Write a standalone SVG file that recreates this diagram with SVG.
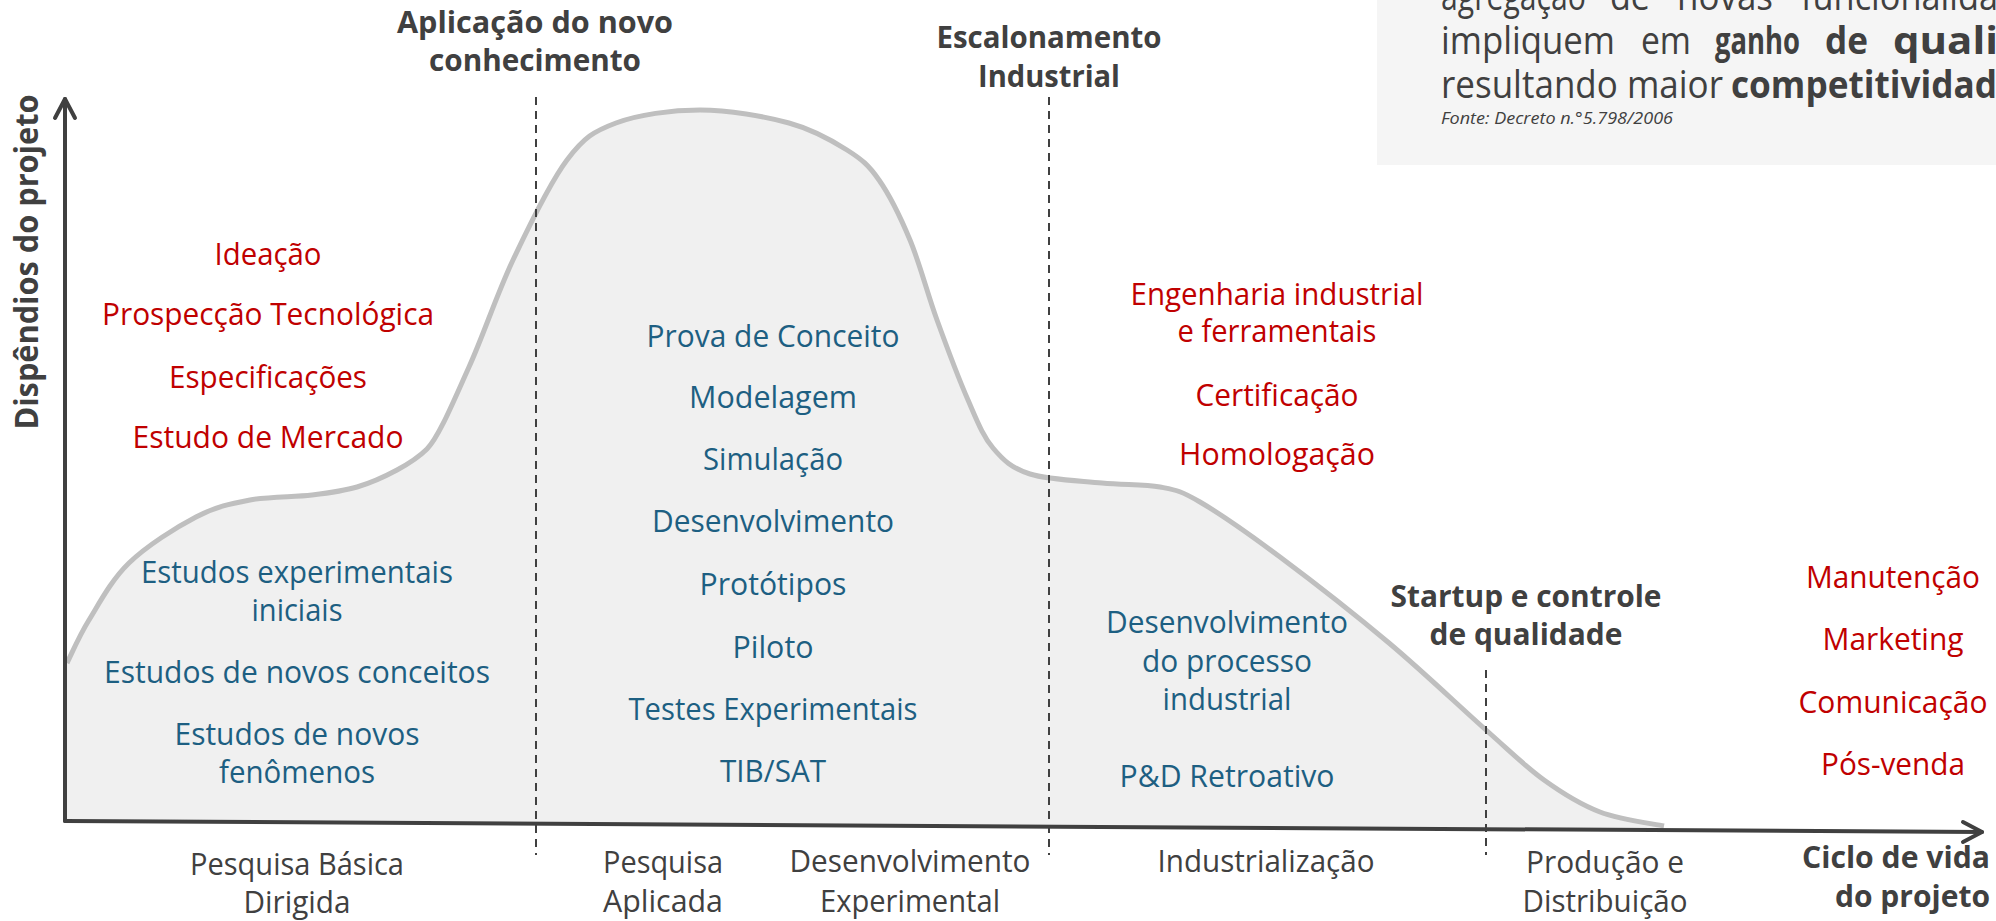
<svg xmlns="http://www.w3.org/2000/svg" width="1996" height="921" viewBox="0 0 1996 921">
<defs>
<style>
text{font-family:"Open Sans","Liberation Sans",sans-serif;}
.t{font-size:31px;text-anchor:middle;}
.red{fill:#c00000;}
.blue{fill:#1d5f82;}
.gray{fill:#404040;}
.ttl{font-size:30px;font-weight:bold;fill:#404040;text-anchor:middle;}
.box{font-size:38px;fill:#404040;}
.b{font-weight:bold;}
.dash{stroke:#404040;stroke-width:2;stroke-dasharray:8 6;fill:none;}
.axis{stroke:#404040;stroke-width:4;fill:none;stroke-linecap:round;stroke-linejoin:round;}
</style>
</defs>
<rect width="1996" height="921" fill="#ffffff"/>

<g id="info-box">
<rect x="1377" y="0" width="619" height="165" fill="#f5f5f5"/>
<text class="box" y="10"><tspan x="1441" textLength="145" lengthAdjust="spacingAndGlyphs">agregação</tspan><tspan x="1610" textLength="40" lengthAdjust="spacingAndGlyphs">de</tspan><tspan x="1677" textLength="96" lengthAdjust="spacingAndGlyphs">novas</tspan><tspan x="1801" textLength="197" lengthAdjust="spacingAndGlyphs">funcionalida</tspan></text>
<text class="box" y="54"><tspan x="1441" textLength="174" lengthAdjust="spacingAndGlyphs">impliquem</tspan><tspan x="1641" textLength="50" lengthAdjust="spacingAndGlyphs">em</tspan><tspan class="b" x="1715" textLength="85" lengthAdjust="spacingAndGlyphs">ganho</tspan><tspan class="b" x="1825" textLength="43" lengthAdjust="spacingAndGlyphs">de</tspan><tspan class="b" x="1893" textLength="105" lengthAdjust="spacingAndGlyphs">quali</tspan></text>
<text class="box" y="98"><tspan x="1441" textLength="282" lengthAdjust="spacingAndGlyphs">resultando maior</tspan><tspan class="b" x="1731" textLength="266" lengthAdjust="spacingAndGlyphs">competitividad</tspan></text>
<text x="1441" y="124" font-size="17" font-style="italic" fill="#404040" textLength="232" lengthAdjust="spacingAndGlyphs">Fonte: Decreto n.°5.798/2006</text>
</g>

<g id="curve">
<path fill="#f0f0f0" stroke="none" d="M67,663 C70.7,655.8 78.7,636.7 89,620 C99.3,603.3 111.2,580.2 129,563 C146.8,545.8 175.8,527.5 196,517 C216.2,506.5 230.7,503.7 250,500 C269.3,496.3 294.2,497.2 312,495 C329.8,492.8 342.8,491.2 357,487 C371.2,482.8 385.3,476.3 397,470 C408.7,463.7 418,458 427,449 C439,437 454.7,398.5 469,367 C483.3,335.5 496.7,294.5 513,260 C529.3,225.5 549.8,182.8 567,160 C584.2,137.2 593.8,131.3 616,123 C638.2,114.7 671.2,110 700,110 C728.8,110 764.5,116.3 789,123 C813.5,129.7 832,140.5 847,150 C862,159.5 868.5,165 879,180 C889.5,195 900.3,216.7 910,240 C919.7,263.3 927.3,293.3 937,320 C946.7,346.7 958.7,378.7 968,400 C977.3,421.3 982.7,435.7 993,448 C1003.3,460.3 1011.8,468.2 1030,474 C1048.2,479.8 1080.3,480.8 1102,483 C1123.7,485.2 1143.7,483.8 1160,487 C1176.3,490.2 1180,490.3 1200,502 C1220,513.7 1248.5,533.5 1280,557 C1311.5,580.5 1354.7,614.2 1389,643 C1423.3,671.8 1460.2,707.2 1486,730 C1511.8,752.8 1525,766.3 1544,780 C1563,793.7 1580,804.3 1600,812 C1620,819.7 1653.3,823.7 1664,826 L1664,829 L65,821 Z"/>
<path fill="none" stroke="#bfbfbf" stroke-width="5" d="M67,663 C70.7,655.8 78.7,636.7 89,620 C99.3,603.3 111.2,580.2 129,563 C146.8,545.8 175.8,527.5 196,517 C216.2,506.5 230.7,503.7 250,500 C269.3,496.3 294.2,497.2 312,495 C329.8,492.8 342.8,491.2 357,487 C371.2,482.8 385.3,476.3 397,470 C408.7,463.7 418,458 427,449 C439,437 454.7,398.5 469,367 C483.3,335.5 496.7,294.5 513,260 C529.3,225.5 549.8,182.8 567,160 C584.2,137.2 593.8,131.3 616,123 C638.2,114.7 671.2,110 700,110 C728.8,110 764.5,116.3 789,123 C813.5,129.7 832,140.5 847,150 C862,159.5 868.5,165 879,180 C889.5,195 900.3,216.7 910,240 C919.7,263.3 927.3,293.3 937,320 C946.7,346.7 958.7,378.7 968,400 C977.3,421.3 982.7,435.7 993,448 C1003.3,460.3 1011.8,468.2 1030,474 C1048.2,479.8 1080.3,480.8 1102,483 C1123.7,485.2 1143.7,483.8 1160,487 C1176.3,490.2 1180,490.3 1200,502 C1220,513.7 1248.5,533.5 1280,557 C1311.5,580.5 1354.7,614.2 1389,643 C1423.3,671.8 1460.2,707.2 1486,730 C1511.8,752.8 1525,766.3 1544,780 C1563,793.7 1580,804.3 1600,812 C1620,819.7 1653.3,823.7 1664,826"/>
</g>

<g id="connectors">
<line class="dash" x1="536" y1="97" x2="536" y2="855"/>
<line class="dash" x1="1049" y1="97" x2="1049" y2="855"/>
<line class="dash" x1="1486" y1="670" x2="1486" y2="855"/>
<path class="axis" d="M65,821 L65,99"/>
<path class="axis" d="M55,118 L65,99 L75,118"/>
<path class="axis" d="M65,821 L1982,832"/>
<path class="axis" d="M1963,822 L1982,832 L1963,842"/>
</g>

<g id="axis-y-label">
<text class="ttl" transform="translate(38,262) rotate(-90)" textLength="335" lengthAdjust="spacingAndGlyphs" style="font-size:32px">Dispêndios do projeto</text>
</g>
<g id="axis-x-label">
<text class="ttl" style="text-anchor:end" x="1990" y="868" textLength="188" lengthAdjust="spacingAndGlyphs">Ciclo de vida</text>
<text class="ttl" style="text-anchor:end" x="1990" y="907" textLength="155" lengthAdjust="spacingAndGlyphs">do projeto</text>
</g>

<g id="title-aplicacao">
<text class="ttl" x="535" y="33" textLength="276" lengthAdjust="spacingAndGlyphs">Aplicação do novo</text>
<text class="ttl" x="535" y="71" textLength="212" lengthAdjust="spacingAndGlyphs">conhecimento</text>
</g>
<g id="title-escalonamento">
<text class="ttl" x="1049" y="48" textLength="225" lengthAdjust="spacingAndGlyphs">Escalonamento</text>
<text class="ttl" x="1049" y="87" textLength="142" lengthAdjust="spacingAndGlyphs">Industrial</text>
</g>
<g id="title-startup">
<text class="ttl" x="1526" y="607" textLength="271" lengthAdjust="spacingAndGlyphs">Startup e controle</text>
<text class="ttl" x="1526" y="645" textLength="193" lengthAdjust="spacingAndGlyphs">de qualidade</text>
</g>

<g id="red-left">
<text class="t red" x="268" y="265" textLength="107" lengthAdjust="spacingAndGlyphs">Ideação</text>
<text class="t red" x="268" y="325" textLength="332" lengthAdjust="spacingAndGlyphs">Prospecção Tecnológica</text>
<text class="t red" x="268" y="388" textLength="198" lengthAdjust="spacingAndGlyphs">Especificações</text>
<text class="t red" x="268" y="448" textLength="271" lengthAdjust="spacingAndGlyphs">Estudo de Mercado</text>
</g>
<g id="blue-left">
<text class="t blue" x="297" y="583" textLength="312" lengthAdjust="spacingAndGlyphs">Estudos experimentais</text>
<text class="t blue" x="297" y="621" textLength="91" lengthAdjust="spacingAndGlyphs">iniciais</text>
<text class="t blue" x="297" y="683" textLength="386" lengthAdjust="spacingAndGlyphs">Estudos de novos conceitos</text>
<text class="t blue" x="297" y="745" textLength="245" lengthAdjust="spacingAndGlyphs">Estudos de novos</text>
<text class="t blue" x="297" y="783" textLength="156" lengthAdjust="spacingAndGlyphs">fenômenos</text>
</g>
<g id="blue-middle">
<text class="t blue" x="773" y="347" textLength="253" lengthAdjust="spacingAndGlyphs">Prova de Conceito</text>
<text class="t blue" x="773" y="408" textLength="168" lengthAdjust="spacingAndGlyphs">Modelagem</text>
<text class="t blue" x="773" y="470" textLength="140" lengthAdjust="spacingAndGlyphs">Simulação</text>
<text class="t blue" x="773" y="532" textLength="242" lengthAdjust="spacingAndGlyphs">Desenvolvimento</text>
<text class="t blue" x="773" y="595" textLength="147" lengthAdjust="spacingAndGlyphs">Protótipos</text>
<text class="t blue" x="773" y="658" textLength="81" lengthAdjust="spacingAndGlyphs">Piloto</text>
<text class="t blue" x="773" y="720" textLength="289" lengthAdjust="spacingAndGlyphs">Testes Experimentais</text>
<text class="t blue" x="773" y="782" textLength="106" lengthAdjust="spacingAndGlyphs">TIB/SAT</text>
</g>
<g id="red-industrial">
<text class="t red" x="1277" y="305" textLength="293" lengthAdjust="spacingAndGlyphs">Engenharia industrial</text>
<text class="t red" x="1277" y="342" textLength="199" lengthAdjust="spacingAndGlyphs">e ferramentais</text>
<text class="t red" x="1277" y="406" textLength="163" lengthAdjust="spacingAndGlyphs">Certificação</text>
<text class="t red" x="1277" y="465" textLength="196" lengthAdjust="spacingAndGlyphs">Homologação</text>
</g>
<g id="blue-industrial">
<text class="t blue" x="1227" y="633" textLength="242" lengthAdjust="spacingAndGlyphs">Desenvolvimento</text>
<text class="t blue" x="1227" y="672" textLength="170" lengthAdjust="spacingAndGlyphs">do processo</text>
<text class="t blue" x="1227" y="710" textLength="129" lengthAdjust="spacingAndGlyphs">industrial</text>
<text class="t blue" x="1227" y="787" textLength="215" lengthAdjust="spacingAndGlyphs">P&amp;D Retroativo</text>
</g>
<g id="red-right">
<text class="t red" x="1893" y="588" textLength="174" lengthAdjust="spacingAndGlyphs">Manutenção</text>
<text class="t red" x="1893" y="650" textLength="141" lengthAdjust="spacingAndGlyphs">Marketing</text>
<text class="t red" x="1893" y="713" textLength="189" lengthAdjust="spacingAndGlyphs">Comunicação</text>
<text class="t red" x="1893" y="775" textLength="144" lengthAdjust="spacingAndGlyphs">Pós-venda</text>
</g>

<g id="phase-pesquisa-basica">
<text class="t gray" x="297" y="875" textLength="214" lengthAdjust="spacingAndGlyphs">Pesquisa Básica</text>
<text class="t gray" x="297" y="913" textLength="107" lengthAdjust="spacingAndGlyphs">Dirigida</text>
</g>
<g id="phase-pesquisa-aplicada">
<text class="t gray" x="663" y="873" textLength="120" lengthAdjust="spacingAndGlyphs">Pesquisa</text>
<text class="t gray" x="663" y="912" textLength="120" lengthAdjust="spacingAndGlyphs">Aplicada</text>
</g>
<g id="phase-desenvolvimento">
<text class="t gray" x="910" y="872" textLength="241" lengthAdjust="spacingAndGlyphs">Desenvolvimento</text>
<text class="t gray" x="910" y="912" textLength="180" lengthAdjust="spacingAndGlyphs">Experimental</text>
</g>
<g id="phase-industrializacao">
<text class="t gray" x="1266" y="872" textLength="217" lengthAdjust="spacingAndGlyphs">Industrialização</text>
</g>
<g id="phase-producao">
<text class="t gray" x="1605" y="873" textLength="158" lengthAdjust="spacingAndGlyphs">Produção e</text>
<text class="t gray" x="1605" y="912" textLength="165" lengthAdjust="spacingAndGlyphs">Distribuição</text>
</g>
</svg>
